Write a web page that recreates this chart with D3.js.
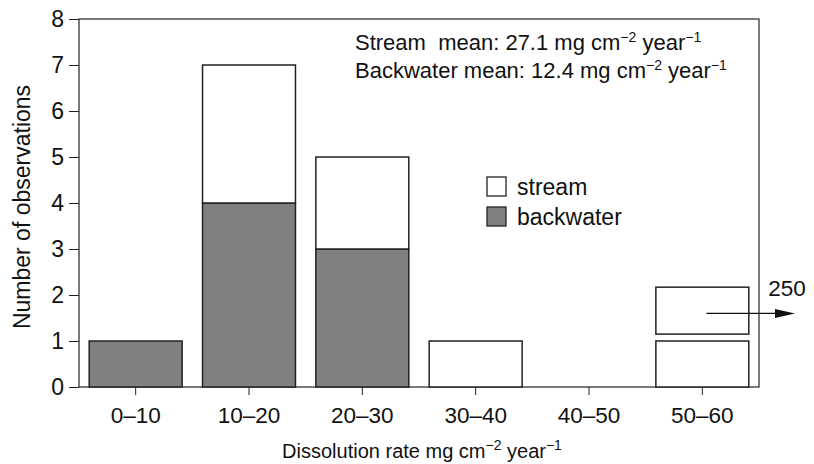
<!DOCTYPE html>
<html>
<head>
<meta charset="utf-8">
<script src="https://cdn.jsdelivr.net/npm/d3@7"></script>
<style>
  body { margin: 0; background: #fff; }
  svg text { font-family: "Liberation Sans", Arial, sans-serif; fill: #111; }
</style>
</head>
<body>
<div class="vis"></div>
<script>
(function() {
  'use strict';

  var categories = ['0–10', '10–20', '20–30', '30–40', '40–50', '50–60'];
  var backwater = [1, 4, 3, 0, 0, 0];
  var stream = [0, 3, 2, 1, 0, 1];
  var yTicks = [0, 1, 2, 3, 4, 5, 6, 7, 8];
  // the off-scale stream value, drawn as a floating box with an arrow
  var outlier = {category: '50–60', low: 1.15, high: 2.17, arrowAt: 1.6, label: '250'};

  var elWidth = 814,
    elHeight = 464,
    margin = {top: 19, right: 55, bottom: 77, left: 79},
    width = elWidth - margin.left - margin.right,
    height = elHeight - margin.top - margin.bottom;

  var svgRoot = d3.select('.vis').append('svg')
      .attr('width', elWidth)
      .attr('height', elHeight);
  var svg = svgRoot.append('g')
      .attr('transform', 'translate(' + margin.left + ',' + margin.top + ')');

  var x = d3.scaleBand()
    .domain(categories)
    .range([0, width])
    .paddingInner(0.18)
    .paddingOuter(0.09);

  var y = d3.scaleLinear()
    .domain([0, 8])
    .range([height, 0]);

  var rows = categories.map(function(c, i) {
    return {cat: c, backwater: backwater[i], stream: stream[i]};
  });
  var stacked = d3.stack().keys(['backwater', 'stream'])(rows);
  var fills = {backwater: '#808080', stream: '#ffffff'};

  // frame
  svg.append('rect')
    .attr('x', 0).attr('y', 0)
    .attr('width', width).attr('height', height)
    .attr('fill', 'none')
    .attr('stroke', '#222')
    .attr('stroke-width', 1.2);

  stacked.forEach(function(layer) {
    svg.selectAll('.bar-' + layer.key)
      .data(layer.filter(function(d) { return d[1] > d[0]; }))
      .enter()
      .append('rect')
        .attr('class', 'bar-' + layer.key)
        .attr('x', function(d) { return x(d.data.cat); })
        .attr('y', function(d) { return y(d[1]); })
        .attr('width', x.bandwidth())
        .attr('height', function(d) { return y(d[0]) - y(d[1]); })
        .attr('fill', fills[layer.key])
        .attr('stroke', '#222')
        .attr('stroke-width', 1.5);
  });

  // outlier box + arrow
  svg.append('rect')
    .attr('x', x(outlier.category))
    .attr('y', y(outlier.high))
    .attr('width', x.bandwidth())
    .attr('height', y(outlier.low) - y(outlier.high))
    .attr('fill', '#fff')
    .attr('stroke', '#222')
    .attr('stroke-width', 1.5);

  var ax0 = x(outlier.category) + x.bandwidth() / 2 + 4,
    ay = y(outlier.arrowAt),
    ax1 = width + 36;
  svg.append('line')
    .attr('x1', ax0).attr('x2', ax1 - 14)
    .attr('y1', ay).attr('y2', ay)
    .attr('stroke', '#111')
    .attr('stroke-width', 1.3);
  svg.append('path')
    .attr('d', 'M' + ax1 + ',' + ay + 'L' + (ax1 - 20) + ',' + (ay - 4.5) + 'L' + (ax1 - 20) + ',' + (ay + 4.5) + 'Z')
    .attr('fill', '#111');
  svg.append('text')
    .attr('x', width + 28)
    .attr('y', y(outlier.high) + 9)
    .attr('text-anchor', 'middle')
    .attr('font-size', 22.5)
    .text(outlier.label);

  // axes
  var yAxis = svg.append('g')
    .call(d3.axisLeft(y).tickValues(yTicks).tickSize(10).tickPadding(5).tickFormat(d3.format('d')));
  yAxis.select('.domain').remove();
  yAxis.selectAll('text').attr('font-size', 23).attr('font-family', null).attr('fill', '#111');
  yAxis.selectAll('line').attr('stroke', '#222');

  var xAxis = svg.append('g')
    .attr('transform', 'translate(0,' + height + ')')
    .call(d3.axisBottom(x).tickSize(8).tickPadding(12));
  xAxis.select('.domain').remove();
  xAxis.selectAll('text').attr('font-size', 22.5).attr('font-family', null).attr('fill', '#111');
  xAxis.selectAll('line').attr('stroke', '#222');

  // axis titles
  svg.append('text')
    .attr('transform', 'translate(-49,' + (height / 2 + 4) + ') rotate(-90)')
    .attr('text-anchor', 'middle')
    .attr('font-size', 23)
    .text('Number of observations');

  var xt = svg.append('text')
    .attr('x', width / 2 + 3)
    .attr('y', height + 71)
    .attr('text-anchor', 'middle')
    .attr('font-size', 20);
  xt.append('tspan').text('Dissolution rate mg cm');
  xt.append('tspan').attr('dy', -8).attr('font-size', 14).text('−2');
  xt.append('tspan').attr('dy', 8).text(' year');
  xt.append('tspan').attr('dy', -8).attr('font-size', 14).text('−1');

  // mean annotations
  var notes = [['Stream  mean: 27.1 mg cm', 31], ['Backwater mean: 12.4 mg cm', 59]];
  notes.forEach(function(n) {
    var t = svg.append('text')
      .attr('x', 276)
      .attr('y', n[1])
      .attr('font-size', 22)
      .attr('xml:space', 'preserve');
    t.append('tspan').text(n[0]);
    t.append('tspan').attr('dy', -8).attr('font-size', 14).text('−2');
    t.append('tspan').attr('dy', 8).text(' year');
    t.append('tspan').attr('dy', -8).attr('font-size', 14).text('−1');
  });

  // legend
  var legend = svg.append('g').attr('transform', 'translate(408,158)');
  ['stream', 'backwater'].forEach(function(k, i) {
    legend.append('rect')
      .attr('x', 0).attr('y', i * 30)
      .attr('width', 19).attr('height', 19)
      .attr('fill', fills[k])
      .attr('stroke', '#222')
      .attr('stroke-width', 1.3);
    legend.append('text')
      .attr('x', 30).attr('y', i * 30 + 18)
      .attr('font-size', 23)
      .text(k);
  });

}());
</script>
</body>
</html>
